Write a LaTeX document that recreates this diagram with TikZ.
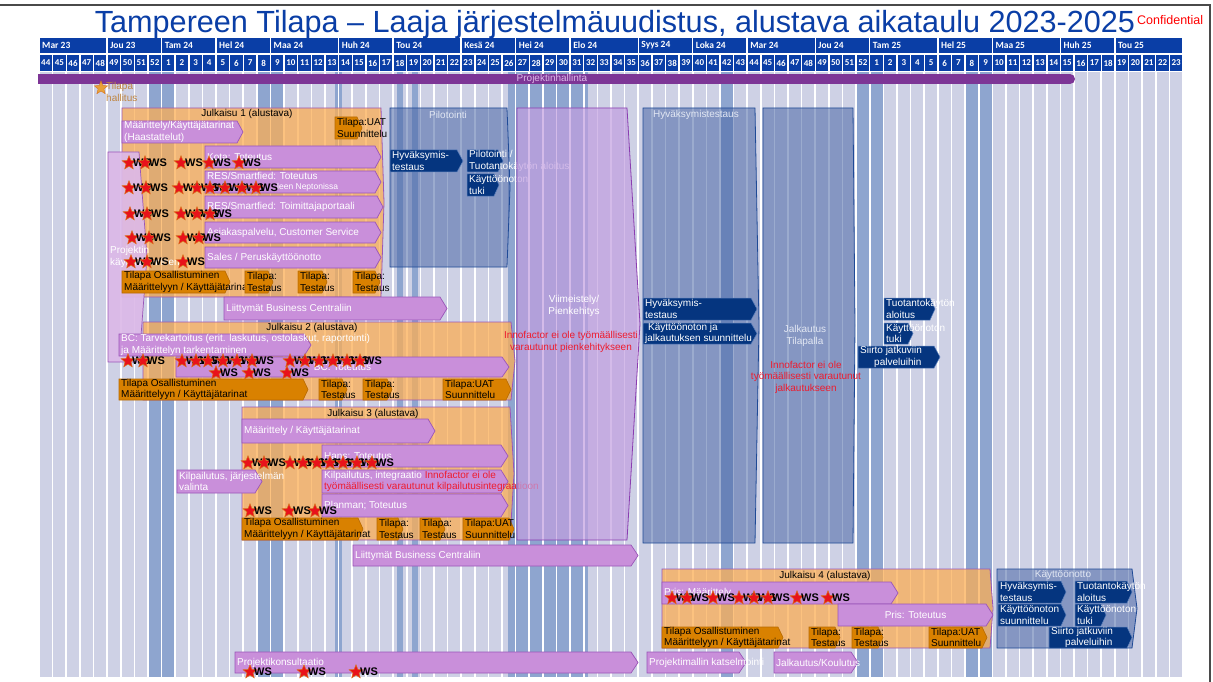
\documentclass[tikz,border=0pt]{standalone}
\usepackage{fontspec}
\setmainfont{Liberation Sans}
\newfontfamily\hdrfont{Carlito}
\usetikzlibrary{shapes.geometric}
\definecolor{lav}{HTML}{CED1E5}
\definecolor{hol}{HTML}{8EA5CF}
\definecolor{hblue}{HTML}{0A3EA6}
\definecolor{tblue}{HTML}{0A3EA6}
\definecolor{pbar}{HTML}{7D3596}
\definecolor{parr}{HTML}{C98FDA}
\definecolor{pbord}{HTML}{9A56B8}
\definecolor{relfill}{HTML}{FBAE55}
\definecolor{darko}{HTML}{D98100}
\definecolor{darkob}{HTML}{B76A00}
\definecolor{navy}{HTML}{05357F}
\definecolor{navyb}{HTML}{5C80BD}
\definecolor{phfill}{HTML}{4A67A6}
\definecolor{phbord}{HTML}{1F4A96}
\definecolor{vifill}{HTML}{C29FE0}
\definecolor{vibord}{HTML}{8A3DB0}
\definecolor{kfill}{HTML}{DCB9E8}
\definecolor{redtxt}{HTML}{EE1C2E}
\definecolor{lighttx}{HTML}{E2E7F3}
\definecolor{starfill}{HTML}{E8121B}
\definecolor{starbord}{HTML}{D9731A}
\definecolor{tilstar}{HTML}{E8A238}
\definecolor{tiltxt}{HTML}{BF8540}
\definecolor{framec}{HTML}{4A4A4A}
\definecolor{bartxt}{HTML}{DDB7E8}

\tikzset{
 fnt/.style={font=\fontsize{10}{11.5}\selectfont},
 pa/.style={fill=parr, draw=pbord, line width=0.7pt},
 pa text/.style={fnt, text=white, anchor=west, align=left, inner sep=0pt},
 oa/.style={fill=darko, draw=darkob, line width=0.6pt},
 oa text/.style={fnt, text=black, anchor=west, align=left, inner sep=0pt},
 na/.style={fill=navy, draw=navyb, line width=0.5pt},
 na text/.style={fnt, text=white, anchor=west, align=left, inner sep=0pt},
 rel/.style={fill=relfill, fill opacity=0.75, draw=pbord, line width=0.8pt},
 ph/.style={fill=phfill, fill opacity=0.55, draw=phbord, line width=0.8pt},
 vi/.style={fill=vifill, fill opacity=0.7, draw=vibord, line width=0.8pt},
 kb/.style={fill=kfill, fill opacity=0.92, draw=pbord, line width=0.7pt},
 kb text/.style={fnt, text=white, anchor=west, align=left, inner sep=0pt},
 wsstar/.style={star, star points=5, star point ratio=2.3, minimum size=14.5pt, inner sep=0pt, fill=starfill, draw=starbord, line width=0.5pt},
 wstext/.style={font=\bfseries\fontsize{11}{11}\selectfont, anchor=west, inner sep=0pt, text=black},
 reltitle/.style={fnt, text=black, inner sep=0pt},
 lighttxt/.style={fnt, text=lighttx, inner sep=0pt, align=center},
 redt/.style={fnt, text=redtxt, inner sep=0pt, align=center},
 hdr/.style={font=\hdrfont\bfseries\fontsize{9.5}{10}\selectfont, text=white, inner sep=0pt},
 hdrw/.style={font=\hdrfont\bfseries\fontsize{9}{10}\selectfont, text=white, inner sep=0pt},
}

\newcommand\arrshape[6][6]{\path[#2] (#3,#4) -- ({#5-#1},#4) -- (#5,{(#4+#6)/2}) -- ({#5-#1},#6) -- (#3,#6) -- cycle;}
\newcommand\abox[8][6]{\arrshape[#1]{#2}{#3}{#4}{#5}{#6}\node[#2 text] (#7) at ({#3+2},{(#4+#6)/2}) {#8};}
\newcommand\aboxc[8][6]{\arrshape[#1]{#2}{#3}{#4}{#5}{#6}\node[#2 text, anchor=center, align=center] (#7) at ({(#3+#5)/2},{(#4+#6)/2}) {#8};}
\newcommand\wsrow[3]{\foreach \x [count=\k] in {#2} {\node[wsstar] (#1s\k) at (\x,#3) {}; \node[wstext] (#1w\k) at ({\x+4},#3) {WS};}}

\begin{document}
\begin{tikzpicture}[x=1pt,y=-1pt]
\useasboundingbox (0,0) rectangle (1213,682);
\fill[white] (0,0) rectangle (1213,682);
\draw[framec, line width=2.5pt] (0,5) -- (1210,5) -- (1210,682);

% grid
\fill[lav] (39,72) rectangle (1183,677);
\foreach \a/\b in {148/175,257/284,335/342,397/403,412/418,508/588,720/734,856/883,965/992}
  \fill[hol] (\a,72) rectangle (\b,677);
\foreach \i in {0,...,84}
  \draw[white, line width=1.6pt] ({39+\i*13.619},72) -- ({39+\i*13.619},677);

% header
\foreach \s/\e/\t [count=\k] in {0/5/Mar 23,5/9/Jou 23,9/13/Tam 24,13/17/Hel 24,17/22/Maa 24,22/26/Huh 24,26/31/Tou 24,31/35/Kesä 24,35/39/Hei 24,39/44/Elo 24,44/48/Syys 24,48/52/Loka 24,52/57/Mar 24,57/61/Jou 24,61/66/Tam 25,66/70/Hel 25,70/75/Maa 25,75/79/Huh 25,79/84/Tou 25}
{\fill[hblue] ({39+\s*13.619+0.7},38) rectangle ({39+\e*13.619-0.7},53);
 \node[hdr, anchor=west] (m\k) at ({39+\s*13.619+3},45.5) {\t};}
\foreach \i in {0,...,83}
{\pgfmathtruncatemacro\n{ifthenelse(\i<9,\i+44,ifthenelse(\i<61,\i-8,\i-60))}
 \fill[hblue] ({39+\i*13.619+0.7},55) rectangle ({39+(\i+1)*13.619-0.7},71);
 \node[hdrw] (w\i) at ({39+(\i+0.5)*13.619},63) {\n};}

% title
\node[anchor=base, inner sep=0pt, text=tblue] (title) at (615,33) {\resizebox{1040pt}{!}{Tampereen Tilapa – Laaja järjestelmäuudistus, alustava aikataulu 2023-2025}};
\node[anchor=base west, inner sep=0pt, text=red, font=\fontsize{12.5}{13}\selectfont] (conf) at (1137,25) {Confidential};

% project management bar
\fill[pbar] (38,74) rectangle (1070,84);
\fill[pbar] (1070,79) circle (5);
\node[fnt, text=bartxt, inner sep=0pt] (pm) at (552,79) {Projektinhallinta};

% Tilapa hallitus
\node[star, star points=5, star point ratio=2.3, minimum size=14pt, inner sep=0pt, fill=tilstar, draw=starbord] (hst) at (101,88) {};
\node[fnt, text=tiltxt, anchor=north west, align=left, inner sep=0pt, font=\fontsize{10}{12}\selectfont] (hal) at (106,82) {Tilapa\\hallitus};

% ---------------- Julkaisu 1
\arrshape[3]{rel}{122}{108}{384}{297}
\node[reltitle] (j1) at (247,114) {Julkaisu 1 (alustava)};
\arrshape[8]{kb}{108}{152}{147}{362}
\node[kb text] (pk) at (110,257) {Projektin\\käynnistäminen};
\abox{pa}{122}{121}{243}{143}{j1a}{Määrittely/Käyttäjätarinat\\(Haastattelut)}
\abox[5]{oa}{335}{117}{362}{139}{j1uat}{Tilapa:UAT\\Suunnittelu}
\abox{pa}{205}{146}{381}{168}{j1kota}{Kota: Toteutus}
\abox{pa}{205}{171}{381}{193}{j1res}{RES/Smartfied: Toteutus\\[-1pt]{\fontsize{8.5}{9}\selectfont\hspace*{70pt}leen Neptonissa}}
\abox{pa}{205}{196}{383}{218}{j1resp}{RES/Smartfied: Toimittajaportaali}
\abox{pa}{205}{222}{381}{243}{j1asp}{Asiakaspalvelu, Customer Service}
\abox{pa}{205}{247}{381}{268}{j1sal}{Sales / Peruskäyttöönotto}
\abox[5]{oa}{122}{271}{230}{293}{j1osa}{Tilapa Osallistuminen\\Määrittelyyn / Käyttäjätarinat}
\abox[5]{oa}{245}{271}{273}{293}{j1t1}{Tilapa:\\Testaus}
\abox[5]{oa}{298}{271}{327}{293}{j1t2}{Tilapa:\\Testaus}
\abox[5]{oa}{353}{271}{380}{293}{j1t3}{Tilapa:\\Testaus}
\wsrow{a}{129,145,181,209,239}{163}
\wsrow{b}{129,146,179,197,210,225,242,256}{188}
\wsrow{c}{130,147,181,197,210}{214}
\wsrow{d}{132,149,183,199}{238}
\wsrow{e}{131,147,183}{262}

% ---------------- Pilotointi
\arrshape[3]{ph}{390}{108}{510}{267}
\node[lighttxt] (pil) at (448,115) {Pilotointi};
\abox{na}{390}{150}{463}{172}{pihy}{Hyväksymis-\\testaus}
\abox[5]{na}{467}{150}{503}{172}{pipi}{Pilotointi /\\Tuotantokäytön aloitus}
\abox[5]{na}{467}{174}{499}{196}{piku}{Käyttöönoton\\tuki}

% Liittymät 1
\abox[7]{pa}{224}{297}{447}{320}{lbc1}{Liittymät Business Centraliin}

% ---------------- Julkaisu 2
\arrshape[4]{rel}{143}{322}{515}{400}
\node[reltitle] (j2) at (312,328) {Julkaisu 2 (alustava)};
\abox[7]{pa}{119}{334}{311}{356}{j2bc}{BC: Tarvekartoitus (erit. laskutus, ostolaskut, raportointi)\\ja Määrittelyn tarkentaminen}
\aboxc[7]{pa}{176}{357}{509}{377}{j2tot}{BC: Toteutus}
\abox[5]{oa}{119}{379}{308}{400}{j2osa}{Tilapa Osallistuminen\\Määrittelyyn / Käyttäjätarinat}
\abox[5]{oa}{319}{379}{347}{400}{j2t1}{Tilapa:\\Testaus}
\abox[5]{oa}{363}{379}{392}{400}{j2t2}{Tilapa:\\Testaus}
\abox[5]{oa}{443}{379}{511}{400}{j2uat}{Tilapa:UAT\\Suunnittelu}
\wsrow{f}{128,143,182,196,208,223,237,252,290,305,319,333,347,360}{361}
\wsrow{g}{216,249,287}{373}

% ---------------- Julkaisu 3
\arrshape[4]{rel}{242}{407}{514}{540}
\node[reltitle] (j3) at (373,414) {Julkaisu 3 (alustava)};
\abox[7]{pa}{242}{419}{435}{443}{j3m}{Määrittely / Käyttäjätarinat}
\abox[7]{pa}{322}{445}{508}{467}{j3h}{Hans: Toteutus}
\abox[7]{pa}{177}{470}{262}{493}{j3k}{Kilpailutus, järjestelmän\\valinta}
\abox[7]{pa}{322}{470}{508}{493}{j3ki}{Kilpailutus, integraatio \textcolor{redtxt}{Innofactor ei ole}\\\textcolor{redtxt}{työmäällisesti varautunut kilpailutusintegraatioon}}
\abox[7]{pa}{322}{494}{508}{517}{j3p}{Planman; Toteutus}
\abox[5]{oa}{242}{518}{363}{540}{j3osa}{Tilapa Osallistuminen\\Määrittelyyn / Käyttäjätarinat}
\abox[5]{oa}{377}{518}{403}{540}{j3t1}{Tilapa:\\Testaus}
\abox[5]{oa}{420}{518}{445}{540}{j3t2}{Tilapa:\\Testaus}
\abox[5]{oa}{463}{518}{514}{540}{j3uat}{Tilapa:UAT\\Suunnittelu}
\wsrow{h}{248,264,290,303,317,330,343,357,372}{463}
\wsrow{i}{250,289,315}{511}

% Liittymät 2
\abox[7]{pa}{353}{545}{638}{566}{lbc2}{Liittymät Business Centraliin}

% ---------------- Viimeistely
\arrshape[13]{vi}{517}{108}{640}{540}
\node[lighttxt, text=white] (vit) at (574,306) {Viimeistely/\\Pienkehitys};
\node[redt] (vir) at (571,342) {Innofactor ei ole työmäällisesti\\varautunut pienkehitykseen};

% ---------------- Hyväksymistestaus
\arrshape[4]{ph}{643}{108}{759}{543}
\node[lighttxt, anchor=west] (hyt) at (653,115) {Hyväksymistestaus};
\abox{na}{643}{298}{757}{320}{hyhy}{Hyväksymis-\\testaus}
\abox{na}{643}{323}{757}{344}{hyku}{\hspace*{3pt}Käyttöönoton ja\\jalkautuksen suunnittelu}

% ---------------- Jalkautus
\arrshape[2]{ph}{763}{108}{855}{543}
\node[lighttxt] (jat) at (805,336) {Jalkautus\\Tilapalla};
\node[redt] (jar) at (806,377) {Innofactor ei ole\\työmäällisesti varautunut\\jalkautukseen};

% post
\abox[5]{na}{884}{298}{935}{320}{potu}{Tuotantokäytön\\aloitus}
\abox[5]{na}{884}{323}{913}{344}{poku}{Käyttöönoton\\tuki}
\abox[6]{na}{858}{346}{940}{368}{posi}{Siirto jatkuviin\\\hspace*{14pt}palveluihin}

% ---------------- Julkaisu 4
\arrshape[3]{rel}{662}{569}{993}{648}
\node[reltitle] (j4) at (825,576) {Julkaisu 4 (alustava)};
\abox[7]{pa}{662}{582}{898}{604}{j4m}{Pris: Määrittely}
\aboxc[7]{pa}{838}{604}{993}{626}{j4t}{Pris: Toteutus}
\abox[5]{oa}{662}{627}{783}{648}{j4osa}{Tilapa Osallistuminen\\Määrittelyyn / Käyttäjätarinat}
\abox[5]{oa}{809}{627}{840}{648}{j4t1}{Tilapa:\\Testaus}
\abox[5]{oa}{852}{627}{883}{648}{j4t2}{Tilapa:\\Testaus}
\abox[5]{oa}{929}{627}{987}{648}{j4uat}{Tilapa:UAT\\Suunnittelu}
\wsrow{j}{672,687,713,739,754,768,797,828}{598}

% ---------------- Käyttöönotto
\arrshape[5]{ph}{997}{569}{1137}{648}
\node[lighttxt] (kot) at (1063,575) {Käyttöönotto};
\abox[5]{na}{998}{581}{1066}{603}{kohy}{Hyväksymis-\\testaus}
\abox[5]{na}{1075}{581}{1132}{603}{kotu}{Tuotantokäytön\\aloitus}
\abox[5]{na}{998}{604}{1066}{626}{kosu}{Käyttöönoton\\suunnittelu}
\abox[5]{na}{1075}{604}{1106}{626}{koku}{Käyttöönoton\\tuki}
\abox[5]{na}{1049}{627}{1132}{648}{kosi}{Siirto jatkuviin\\\hspace*{14pt}palveluihin}

% bottom row
\abox[7]{pa}{235}{652}{638}{673}{pko}{Projektikonsultaatio}
\wsrow{k}{250,304,356}{672}
\abox[7]{pa}{647}{652}{746}{673}{pmk}{Projektimallin katselmointi}
\abox[7]{pa}{774}{652}{858}{673}{jko}{Jalkautus/Koulutus}
\end{tikzpicture}
\end{document}
